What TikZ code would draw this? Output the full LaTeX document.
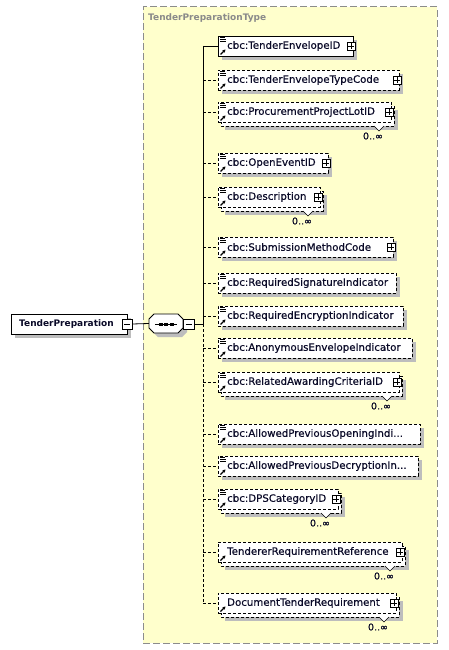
\documentclass[tikz,border=0pt]{standalone}
\usepackage{fontspec}
\setmainfont{DejaVu Sans}
\newfontfamily\elemfont[FakeBold=0.45]{DejaVu Sans}
\newfontfamily\multfont[FakeBold=0.3]{DejaVu Sans}
\usetikzlibrary{arrows.meta}
\definecolor{typebg}{HTML}{FFFFCC}
\definecolor{typeborder}{HTML}{8C8C8C}
\definecolor{shadowc}{HTML}{BDBDBD}
\definecolor{typetext}{HTML}{8A8A8A}
\definecolor{elemtext}{HTML}{0A0A28}
\tikzset{
  ebox/.style={draw=black, fill=white, line width=0.8pt, minimum height=20pt, inner sep=0pt},
  dsh/.style={dash pattern=on 3pt off 2pt},
  etext/.style={font=\elemfont\fontsize{10.2}{12}\selectfont, text=elemtext, inner sep=0pt, anchor=west},
  multlbl/.style={font=\multfont\fontsize{9.5}{11}\selectfont, text=elemtext, inner sep=0pt},
  pbtn/.style={draw=black, fill=white, line width=0.7pt, minimum size=8pt, inner sep=0pt},
  conn/.style={line width=0.8pt},
  refarrow/.style={line width=1.1pt, -{Stealth[length=3pt,width=3.4pt]}},
}
\newcommand\elem[8]{%
  \ifnum#6=1
    \fill[shadowc] (225,#2-2) rectangle (#3+7,#2+18);
    \draw[line width=0.8pt,dsh,fill=white] (221,#2-6) rectangle (#3+3,#2+14);
    \draw[line width=0.6pt,fill=white] (#3-17,#2+14) -- (#3-12,#2+19) -- (#3-7,#2+14);
    \node[multlbl] (#1m) at (#3-18,#2+24) {0..∞};
  \else
    \fill[shadowc] (222,#2-6) rectangle (#3+4,#2+14);
  \fi
  \node[ebox,#5,minimum width={#3-218}] (#1) at ({(218+#3)/2},#2) {};
  \node[etext] (#1t) at (227,#2) {#4};
  \ifnum#7=1
    \node[pbtn] (#1p) at (#3-2,#2) {};
    \draw[line width=0.7pt] (#3-4.7,#2) -- (#3+0.7,#2) (#3-2,#2-2.7) -- (#3-2,#2+2.7);
  \fi
  \ifnum#8=1
    \draw[line width=0.7pt] (220,#2-9) -- (225,#2-9) (220,#2-7) -- (226,#2-7) (220,#2-5) -- (226,#2-5);
  \fi
  \draw[refarrow] (220.5,#2+8.5) -- (225.5,#2+3.5);
  \coordinate (#1j) at (203,#2);
}
\begin{document}
\begin{tikzpicture}[x=1pt,y=-1pt]
\useasboundingbox (0,0) rectangle (449,650);
% type box
\node[draw=typeborder, fill=typebg, line width=1pt, dash pattern=on 7pt off 3pt,
  minimum width=294, minimum height=636, inner sep=0pt] (typebox) at (290,325) {};
\node[font=\bfseries\fontsize{9}{11}\selectfont, text=typetext, anchor=west, inner sep=0pt] (typelbl) at (148,18) {TenderPreparationType};
% root element
\fill[shadowc] (15,318) rectangle (131,338);
\node[ebox, minimum width=116] (tp) at (69,324) {};
\node[font=\bfseries\fontsize{9}{11}\selectfont, text=elemtext, anchor=west, inner sep=0pt] (tpt) at (19,324) {TenderPreparation};
\node[pbtn, minimum size=10pt] (tpm) at (127,324) {};
\draw[line width=0.7pt] (124,324) -- (130,324);
% sequence compositor
\fill[shadowc] (158,318) -- (182,318) -- (187,323) -- (187,332) -- (182,337) -- (158,337) -- (153,332) -- (153,323) -- cycle;
\draw[line width=0.8pt, fill=white] (154,314) -- (178,314) -- (183,319) -- (183,328) -- (178,333) -- (154,333) -- (149,328) -- (149,319) -- cycle;
\node[minimum width=34, minimum height=19, inner sep=0pt] (seq) at (166,323.5) {};
\draw[line width=0.8pt] (155,324) -- (177,324);
\fill (158.5,322.5) rectangle (162.5,325.5);
\fill (164,322.5) rectangle (168,325.5);
\fill (169.5,322.5) rectangle (173.5,325.5);
\node[pbtn, minimum width=11pt, minimum height=10pt] (seqm) at (188.5,324) {};
\draw[line width=0.7pt] (185.5,324) -- (191.5,324);
\coordinate (jseq) at (203,324);
\draw[conn] (tpm.east) -- (seq.west);
\draw[conn] (seqm.east) -- (jseq);
% children
\elem{e1}{46}{353}{cbc:TenderEnvelopeID}{solid}{0}{1}{1}
\elem{e2}{80}{399}{cbc:TenderEnvelopeTypeCode}{dsh}{0}{1}{1}
\elem{e3}{112}{391}{cbc:ProcurementProjectLotID}{dsh}{1}{1}{1}
\elem{e4}{163}{328}{cbc:OpenEventID}{dsh}{0}{1}{1}
\elem{e5}{197}{320}{cbc:Description}{dsh}{1}{1}{1}
\elem{e6}{247}{393}{cbc:SubmissionMethodCode}{dsh}{0}{1}{1}
\elem{e7}{283}{396}{cbc:RequiredSignatureIndicator}{dsh}{0}{0}{1}
\elem{e8}{316}{403}{cbc:RequiredEncryptionIndicator}{dsh}{0}{0}{1}
\elem{e9}{348}{412}{cbc:AnonymousEnvelopeIndicator}{dsh}{0}{0}{1}
\elem{e10}{382}{399}{cbc:RelatedAwardingCriteriaID}{dsh}{1}{1}{1}
\elem{e11}{434}{420}{cbc:AllowedPreviousOpeningIndi...}{dsh}{0}{0}{1}
\elem{e12}{466}{418}{cbc:AllowedPreviousDecryptionIn...}{dsh}{0}{0}{1}
\elem{e13}{499}{338}{cbc:DPSCategoryID}{dsh}{1}{1}{1}
\elem{e14}{552}{402}{TendererRequirementReference}{dsh}{1}{1}{0}
\elem{e15}{603}{396}{DocumentTenderRequirement}{dsh}{1}{1}{0}
% connectors
\draw[conn] (e1j) -- (jseq);
\draw[conn, dsh] (jseq) -- (e15j);
\draw[conn] (e1j) -- (e1.west);
\foreach \i in {2,...,15} { \draw[conn, dsh] (e\i j) -- (e\i.west); }
\end{tikzpicture}
\end{document}
